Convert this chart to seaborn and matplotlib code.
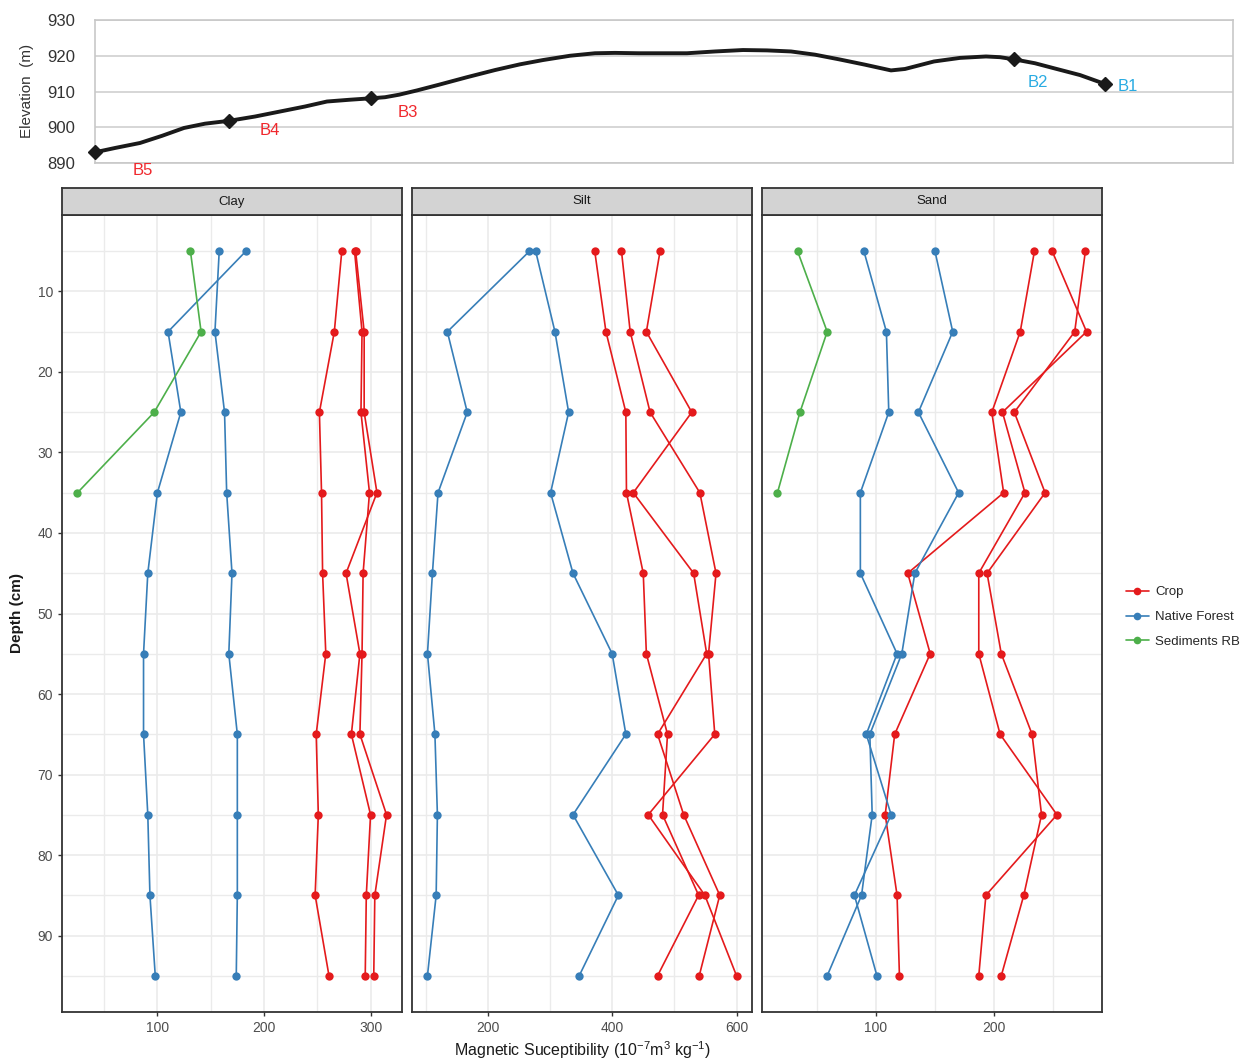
import pandas as pd
import matplotlib
matplotlib.use('Agg')
import matplotlib.pyplot as plt
from matplotlib.lines import Line2D
from matplotlib.ticker import MultipleLocator
import seaborn as sns

# --- elevation profile (top panel) ---
profile_dist = [0, 20, 45, 67, 89, 110, 134, 160, 185, 210, 232, 255, 276, 290,
                304, 322, 344, 372, 400, 425, 448, 475, 500, 520, 544, 592, 620,
                648, 672, 696, 720, 744, 770, 796, 810, 839, 865, 891, 905, 919,
                940, 959, 985, 1010]
profile_elev = [893.0, 894.2, 895.6, 897.6, 899.8, 901.0, 901.8, 903.0, 904.4,
                905.8, 907.2, 907.7, 908.1, 908.4, 909.1, 910.3, 911.9, 914.0,
                916.0, 917.6, 918.8, 920.0, 920.7, 920.8, 920.7, 920.7, 921.2,
                921.6, 921.5, 921.2, 920.3, 919.0, 917.5, 915.9, 916.3, 918.4,
                919.4, 919.8, 919.6, 919.0, 917.9, 916.5, 914.6, 912.1]
site_names = ['B5', 'B4', 'B3', 'B2', 'B1']
site_dist = [0, 134, 276, 919, 1010]
site_elev = [893.0, 901.8, 908.1, 919.0, 912.1]

# --- magnetic susceptibility profiles ---
depths = [5, 15, 25, 35, 45, 55, 65, 75, 85, 95]
sed_depths = [5, 15, 25, 35]
textures = ['Clay', 'Silt', 'Sand']
land_uses = ['Crop', 'Native Forest', 'Sediments RB']

clay_b1 = [183, 110, 122, 100, 91, 87, 87, 91, 93, 98]
clay_b2 = [158, 154, 163, 165, 170, 167, 175, 175, 175, 174]
clay_b3 = [273, 266, 252, 254, 255, 258, 249, 251, 248, 261]
clay_b4 = [286, 294, 294, 306, 277, 290, 282, 300, 296, 295]
clay_b5 = [285, 292, 291, 299, 293, 292, 290, 315, 304, 303]
clay_rb = [131, 141, 97, 25]

silt_b1 = [267, 135, 167, 120, 111, 103, 115, 119, 117, 103]
silt_b2 = [277, 308, 330, 301, 337, 400, 422, 337, 410, 347]
silt_b3 = [372, 390, 422, 423, 450, 455, 489, 481, 539, 473]
silt_b4 = [415, 429, 461, 541, 567, 555, 565, 458, 549, 600]
silt_b5 = [477, 455, 528, 434, 531, 552, 473, 515, 573, 540]

sand_b1 = [90, 109, 111, 87, 87, 118, 92, 113, 82, 101]
sand_b2 = [150, 165, 136, 170, 133, 122, 95, 97, 88, 59]
sand_b3 = [234, 222, 198, 208, 127, 146, 116, 108, 118, 120]
sand_b4 = [249, 278, 207, 226, 187, 187, 205, 253, 193, 187]
sand_b5 = [277, 268, 217, 243, 194, 206, 232, 240, 225, 206]
sand_rb = [34, 59, 36, 17]

profiles = {
    'Clay': {'B1': clay_b1, 'B2': clay_b2, 'B3': clay_b3, 'B4': clay_b4, 'B5': clay_b5, 'RB': clay_rb},
    'Silt': {'B1': silt_b1, 'B2': silt_b2, 'B3': silt_b3, 'B4': silt_b4, 'B5': silt_b5},
    'Sand': {'B1': sand_b1, 'B2': sand_b2, 'B3': sand_b3, 'B4': sand_b4, 'B5': sand_b5, 'RB': sand_rb},
}
site_use = {'B1': 'Native Forest', 'B2': 'Native Forest', 'B3': 'Crop',
            'B4': 'Crop', 'B5': 'Crop', 'RB': 'Sediments RB'}

rows = []
for tex, sites in profiles.items():
    for site, vals in sites.items():
        dd = sed_depths if site == 'RB' else depths
        for d, v in zip(dd, vals):
            rows.append({'texture': tex, 'site': site, 'land_use': site_use[site],
                         'depth': d, 'ms': v})
df = pd.DataFrame(rows)

palette = {'Crop': '#E41A1C', 'Native Forest': '#377EB8', 'Sediments RB': '#4DAF4A'}

sns.set_theme(style='white')
plt.rcParams['font.family'] = ['Liberation Sans', 'DejaVu Sans']
plt.rcParams['mathtext.default'] = 'regular'

W, H = 1246, 1060
fig = plt.figure(figsize=(W / 100, H / 100), dpi=100)


def px_axes(x0, y0, x1, y1):
    return fig.add_axes([x0 / W, 1 - y1 / H, (x1 - x0) / W, (y1 - y0) / H])


# ---- top elevation panel ----
ax0 = px_axes(95, 20, 1233, 163)
ax0.plot(profile_dist, profile_elev, color='#1A1A1A', lw=2.8, solid_joinstyle='round',
         solid_capstyle='round', zorder=3)
ax0.plot(site_dist, site_elev, ls='none', marker='D', ms=7, color='#1A1A1A',
         clip_on=False, zorder=4)
label_pos = {'B5': (48, 887.8), 'B4': (175, 899.0), 'B3': (313, 904.2),
             'B2': (943, 912.6), 'B1': (1033, 911.5)}
for name in site_names:
    col = '#29ABE2' if name in ('B1', 'B2') else '#F0282D'
    lx, ly = label_pos[name]
    ax0.text(lx, ly, name, color=col, fontsize=12, ha='center', va='center', clip_on=False)
ax0.set_xlim(0, 1138)
ax0.set_ylim(890, 930)
ax0.set_yticks([890, 900, 910, 920, 930])
ax0.set_xticks([])
ax0.grid(axis='y', color='#CFCFCF', lw=1.2)
ax0.set_axisbelow(True)
for s in ax0.spines.values():
    s.set_color('#C8C8C8')
    s.set_linewidth(1.2)
ax0.tick_params(axis='y', length=0, labelsize=12, labelcolor='#333333', pad=14)
fig.text(27 / W, 1 - 91 / H, 'Elevation  (m)', rotation=90, ha='center', va='center',
         fontsize=11, color='#333333')

# ---- facet panels ----
panel_x = [(62, 402), (412, 752), (762, 1102)]
major_step = {'Clay': 100, 'Silt': 200, 'Sand': 100}
for i, tex in enumerate(textures):
    x0, x1 = panel_x[i]
    ax = px_axes(x0, 215, x1, 1012)
    sub = df[df['texture'] == tex]
    sns.lineplot(data=sub, x='ms', y='depth', hue='land_use', hue_order=land_uses,
                 units='site', estimator=None, sort=False, palette=palette,
                 marker='o', markersize=6, markeredgewidth=0, linewidth=1.2,
                 legend=False, ax=ax, zorder=3)
    ax.margins(x=0.05, y=0.05)
    ax.autoscale_view()
    ax.invert_yaxis()
    ax.xaxis.set_major_locator(MultipleLocator(major_step[tex]))
    ax.xaxis.set_minor_locator(MultipleLocator(major_step[tex] / 2))
    ax.yaxis.set_major_locator(MultipleLocator(10))
    ax.yaxis.set_minor_locator(MultipleLocator(5))
    ax.grid(which='major', color='#EBEBEB', lw=1.2)
    ax.grid(which='minor', color='#EBEBEB', lw=1.0)
    ax.set_axisbelow(True)
    ax.set_xlabel('')
    ax.set_ylabel('')
    for s in ax.spines.values():
        s.set_color('#333333')
        s.set_linewidth(1.3)
    ax.tick_params(which='major', length=3, width=1, color='#333333',
                   labelsize=10, labelcolor='#4D4D4D', bottom=True, left=(i == 0))
    ax.tick_params(which='minor', length=0)
    if i > 0:
        ax.set_yticklabels([])
    # strip
    sax = px_axes(x0, 188, x1, 215)
    sax.set_xticks([])
    sax.set_yticks([])
    sax.set_facecolor('#D3D3D3')
    for s in sax.spines.values():
        s.set_color('#333333')
        s.set_linewidth(1.3)
    sax.text(0.5, 0.5, tex, ha='center', va='center', fontsize=9.5, color='#1A1A1A',
             transform=sax.transAxes)

fig.text(17 / W, 1 - 613 / H, 'Depth (cm)', rotation=90, ha='center', va='center',
         fontsize=11, fontweight='bold', color='#1A1A1A')
fig.text(582 / W, 1 - 1050 / H, r'Magnetic Suceptibility (10$^{-7}$m$^{3}$ kg$^{-1}$)',
         ha='center', va='center', fontsize=11.5, color='#1A1A1A')

handles = [Line2D([0], [0], color=palette[u], lw=1.2, marker='o', ms=5.5,
                  markeredgewidth=0) for u in land_uses]
fig.legend(handles, land_uses, loc='center left', bbox_to_anchor=(1121 / W, 1 - 617 / H),
           frameon=False, fontsize=9.5, handlelength=1.7, handletextpad=0.5,
           labelspacing=0.95, borderaxespad=0)

fig.savefig('out.png', dpi=100)
